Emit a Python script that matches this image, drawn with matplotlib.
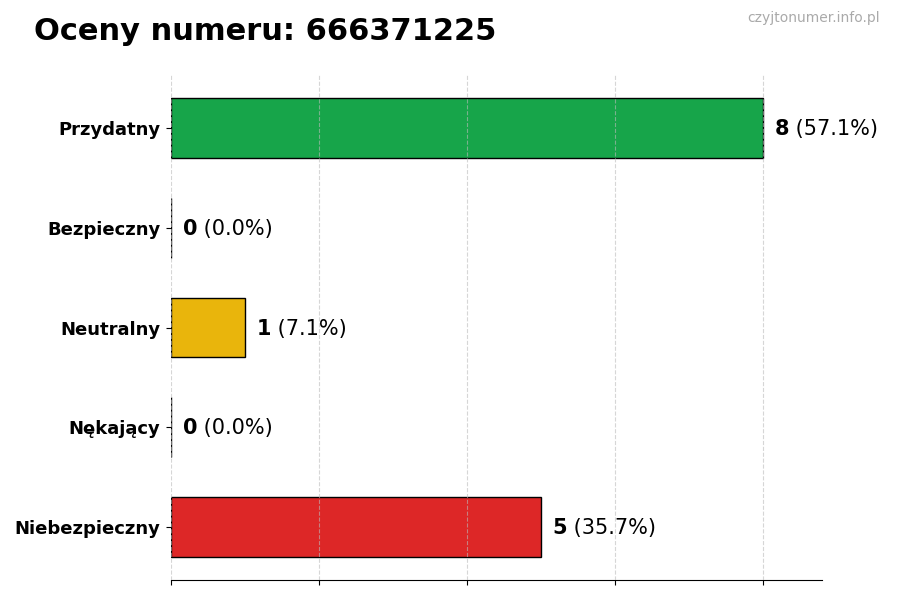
import matplotlib
matplotlib.use("Agg")
import matplotlib.pyplot as plt

categories = ["Przydatny", "Bezpieczny", "Neutralny", "Nękający", "Niebezpieczny"]
values = [8, 0, 1, 0, 5]
colors = ["#17a54a", "#2a7fd4", "#e9b50c", "#f07f1a", "#dd2727"]
title = "Oceny numeru: 666371225"
watermark = "czyjtonumer.info.pl"

total = sum(values)

fig = plt.figure(figsize=(9, 6), dpi=100)
ax = fig.add_axes([0.19, 0.0333, 0.723, 0.8417])

y = list(range(len(categories)))
ax.barh(y, values, height=0.6, color=colors, edgecolor="black", linewidth=1, zorder=1)
ax.invert_yaxis()
ax.set_yticks(y)
ax.set_yticklabels(categories, fontsize=13, fontweight="bold")
ax.tick_params(axis="y", pad=4)
ax.set_xlim(0, max(values) * 1.1)
ax.set_xticks([0, 2, 4, 6, 8])
ax.set_xticklabels([])
ax.grid(axis="x", linestyle="--", color="#bbbbbb", alpha=0.6, linewidth=0.8, zorder=2)
ax.set_axisbelow(False)
for s in ["top", "right", "left"]:
    ax.spines[s].set_visible(False)

fig.canvas.draw()
for yi, v in zip(y, values):
    pct = 100.0 * v / total if total else 0.0
    t = ax.text(v + 0.16, yi + 0.01, str(v), fontsize=15, fontweight="bold", va="center", ha="left", zorder=5)
    ax.annotate(f" ({pct:.1f}%)", xy=(1, 0), xycoords=t, va="bottom", ha="left", fontsize=15, zorder=5)

fig.text(0.038, 0.933, title, fontsize=22, fontweight="bold", va="baseline", ha="left")
fig.text(0.978, 0.963, watermark, fontsize=10, color="#aaaaaa", va="baseline", ha="right")

fig.savefig("out.png", dpi=100)
